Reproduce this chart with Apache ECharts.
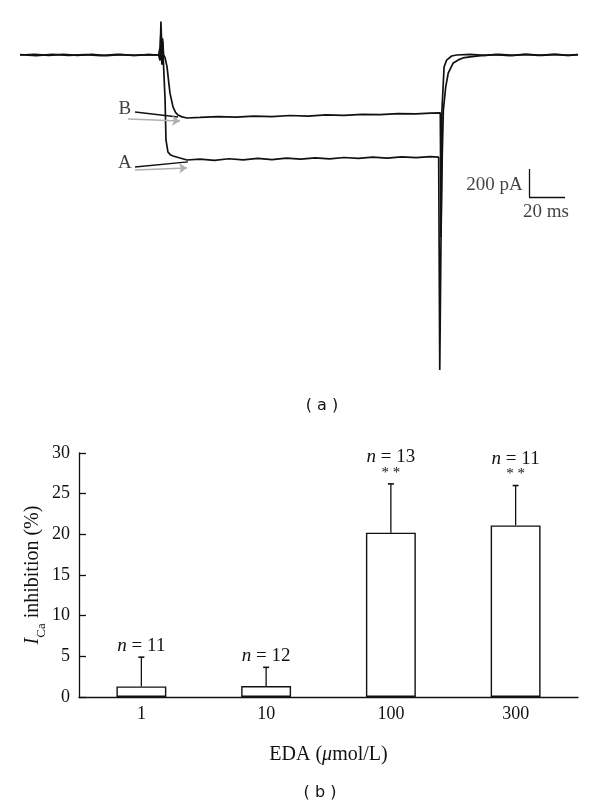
<!DOCTYPE html>
<html>
<head>
<meta charset="utf-8">
<script src="https://cdn.jsdelivr.net/npm/echarts@6/dist/echarts.min.js"></script>
<style>
  html, body { margin: 0; padding: 0; background: #fff; }
  #main { width: 600px; height: 806px; }
</style>
</head>
<body>
<div id="main"></div>
<script>
// (a) 电流记录, [时间 ms, 电流 pA]
var traceA = [
    [0, 0], [8, 4], [16, -3], [24, 5], [32, -2], [40, 4], [48, -4], [56, 3], [64, -3], [72, 2], [77, 0],
    [77.8, -40], [78.3, 240], [78.8, -70], [79.2, 120], [79.6, -30],
    [80.6, -321], [81.1, -607], [82.2, -693], [83.5, -712], [85, -721], [88.9, -736], [92.8, -750],
    [100, -744], [108, -752], [116, -741], [124, -749], [132, -739], [140, -747], [148, -737], [156, -744],
    [164, -735], [172, -742], [180, -732], [188, -739], [196, -729], [204, -736], [212, -727], [220, -733],
    [228, -726], [232.6, -730],
    [233.2, -2250], [233.9, -1300], [234.4, -400], [235.6, -86], [237, -36], [239.8, -7], [242.6, 0],
    [250, 4], [258, -3], [266, 5], [274, -2], [282, 4], [290, -3], [298, 5], [305, -2], [310, 3]
];
var traceB = [
    [0, 2], [9, -4], [18, 4], [27, -3], [36, 3], [45, -5], [54, 4], [63, -2], [71, 3], [77, 0],
    [77.9, 60], [78.4, 200], [78.9, -50], [79.3, 100], [79.8, 0],
    [80.6, -20], [81.7, -86], [82.5, -180], [83.3, -271], [85, -371], [86.4, -410], [87.8, -429], [90, -442], [92.8, -450],
    [100, -446], [110, -440], [120, -444], [130, -436], [140, -440], [150, -432], [160, -436], [170, -428],
    [180, -431], [190, -424], [200, -426], [210, -419], [220, -421], [228, -415], [233.5, -414],
    [233.9, -1300], [234.6, -700], [235.2, -393], [236.5, -230], [237.9, -129], [240.7, -57], [243.5, -35],
    [246.1, -21], [250, -14], [256, -5],
    [264, 3], [272, -4], [280, 4], [288, -3], [296, 4], [304, -3], [310, 2]
];

// (b) 抑制率
var categories = ['1', '10', '100', '300'];
var means = [1.3, 1.35, 20.2, 21.1];
var sds = [3.6, 2.3, 6.0, 4.9];
var nLabels = ['11', '12', '13', '11'];
var sigMarks = ['', '', '* *', '* *'];
var yTicks = [0, 5, 10, 15, 20, 25, 30];

var serif = 'Liberation Serif';
var ink = '#111';

var errData = means.map(function (m, i) {
    return [i, m, sds[i]];
});

var renderError = function (params, api) {
    var i = api.value(0);
    var base = api.coord([i, api.value(1)]);
    var top = api.coord([i, api.value(1) + api.value(2)]);
    var txt = '{i|n} = ' + nLabels[i] + (sigMarks[i] ? '\n{s|' + sigMarks[i] + '}' : '');
    return {
        type: 'group',
        children: [
            {
                type: 'line',
                shape: { x1: base[0], y1: base[1], x2: top[0], y2: top[1] },
                style: { stroke: ink, lineWidth: 1.3 }
            },
            {
                type: 'line',
                shape: { x1: top[0] - 3, y1: top[1], x2: top[0] + 3, y2: top[1] },
                style: { stroke: ink, lineWidth: 1.6 }
            },
            {
                type: 'text',
                x: top[0],
                y: top[1] - 3,
                style: {
                    text: txt,
                    fill: ink,
                    font: '19px "' + serif + '"',
                    align: 'center',
                    verticalAlign: 'bottom',
                    lineHeight: 16,
                    rich: {
                        i: { fontStyle: 'italic', fontSize: 19, fontFamily: serif, lineHeight: 16 },
                        s: { fontSize: 15, fontFamily: serif, lineHeight: 16 }
                    }
                }
            }
        ]
    };
};

var textItem = function (x, y, text, size) {
    return {
        value: [x, y],
        label: { formatter: text, fontSize: size }
    };
};

var option = {
    animation: false,
    backgroundColor: '#fff',
    grid: [
        { left: 20, top: 20, width: 558, height: 350 },
        { left: 79, top: 453, width: 499, height: 244 }
    ],
    graphic: [
        { type: 'text', x: 322, y: 406, style: { text: '( a )', font: '16px "DejaVu Sans"', fill: ink, align: 'center', verticalAlign: 'middle' } },
        { type: 'text', x: 320, y: 793, style: { text: '( b )', font: '16px "DejaVu Sans"', fill: ink, align: 'center', verticalAlign: 'middle' } },
        // 纵轴标题
        {
            type: 'text',
            x: 33,
            y: 575,
            rotation: Math.PI / 2,
            style: {
                text: '{i|I}{s|Ca} inhibition (%)',
                font: '20px "' + serif + '"',
                fill: ink,
                align: 'center',
                verticalAlign: 'middle',
                lineHeight: 22,
                rich: {
                    i: { fontStyle: 'italic', fontFamily: serif, fontSize: 20, lineHeight: 22 },
                    s: { fontFamily: serif, fontSize: 13, lineHeight: 30, verticalAlign: 'bottom' }
                }
            }
        }
    ],
    xAxis: [
        { gridIndex: 0, type: 'value', min: 0, max: 310, show: false },
        {
            gridIndex: 1,
            type: 'category',
            data: categories,
            axisLine: { lineStyle: { color: ink, width: 1.3 } },
            axisTick: { inside: true, length: 5, lineStyle: { color: ink, width: 1.3 } },
            axisLabel: { color: ink, fontFamily: serif, fontSize: 18, margin: 8 },
            name: 'EDA ({i|μ}mol/L)',
            nameLocation: 'middle',
            nameGap: 48,
            nameTextStyle: {
                color: ink, fontFamily: serif, fontSize: 20,
                rich: { i: { fontStyle: 'italic', fontFamily: serif, fontSize: 20, color: ink } }
            }
        }
    ],
    yAxis: [
        { gridIndex: 0, type: 'value', min: -2250, max: 250, show: false },
        {
            gridIndex: 1,
            type: 'value',
            min: yTicks[0],
            max: yTicks[yTicks.length - 1],
            interval: 5,
            splitLine: { show: false },
            axisLine: { show: true, lineStyle: { color: ink, width: 1.3 } },
            axisTick: { show: true, inside: true, length: 7, lineStyle: { color: ink, width: 1.3 } },
            axisLabel: { color: ink, fontFamily: serif, fontSize: 18, margin: 9 }
        }
    ],
    series: [
        {
            name: 'A',
            type: 'line',
            xAxisIndex: 0,
            yAxisIndex: 0,
            data: traceA,
            showSymbol: false,
            lineStyle: { color: ink, width: 1.7 },
            markLine: {
                silent: true,
                symbol: ['none', 'none'],
                label: { show: false },
                lineStyle: { color: ink, width: 1.3, type: 'solid' },
                data: [
                    [{ coord: [63.9, -407] }, { coord: [87.8, -443] }],
                    [{ coord: [63.9, -800] }, { coord: [93.3, -764] }],
                    // 标尺 200 pA / 20 ms
                    [{ coord: [282.8, -814] }, { coord: [282.8, -1014] }],
                    [{ coord: [282.8, -1014] }, { coord: [302.8, -1014] }]
                ]
            }
        },
        {
            name: 'B',
            type: 'line',
            xAxisIndex: 0,
            yAxisIndex: 0,
            data: traceB,
            showSymbol: false,
            lineStyle: { color: ink, width: 1.7 },
            markLine: {
                silent: true,
                symbol: ['none', 'arrow'],
                symbolSize: 8,
                label: { show: false },
                lineStyle: { color: '#b0b0b0', width: 1.5, type: 'solid' },
                itemStyle: { color: '#b0b0b0' },
                data: [
                    [{ coord: [60, -457] }, { coord: [88.9, -471] }],
                    [{ coord: [63.9, -821] }, { coord: [92.8, -807] }]
                ]
            }
        },
        {
            type: 'scatter',
            xAxisIndex: 0,
            yAxisIndex: 0,
            symbolSize: 0,
            silent: true,
            label: { show: true, position: 'inside', color: ink, fontFamily: serif },
            data: [
                textItem(58.3, -386, 'B', 19),
                textItem(58.3, -771, 'A', 19),
                textItem(263.6, -929, '200 pA', 19),
                textItem(292.2, -1121, '20 ms', 19)
            ]
        },
        {
            type: 'bar',
            xAxisIndex: 1,
            yAxisIndex: 1,
            data: means,
            barWidth: '40%',
            itemStyle: { color: '#fff', borderColor: ink, borderWidth: 1.4 },
            z: 2
        },
        {
            type: 'custom',
            xAxisIndex: 1,
            yAxisIndex: 1,
            data: errData,
            renderItem: renderError,
            z: 3
        }
    ]
};

var chart = echarts.init(document.getElementById('main'));
chart.setOption(option);
</script>
</body>
</html>
